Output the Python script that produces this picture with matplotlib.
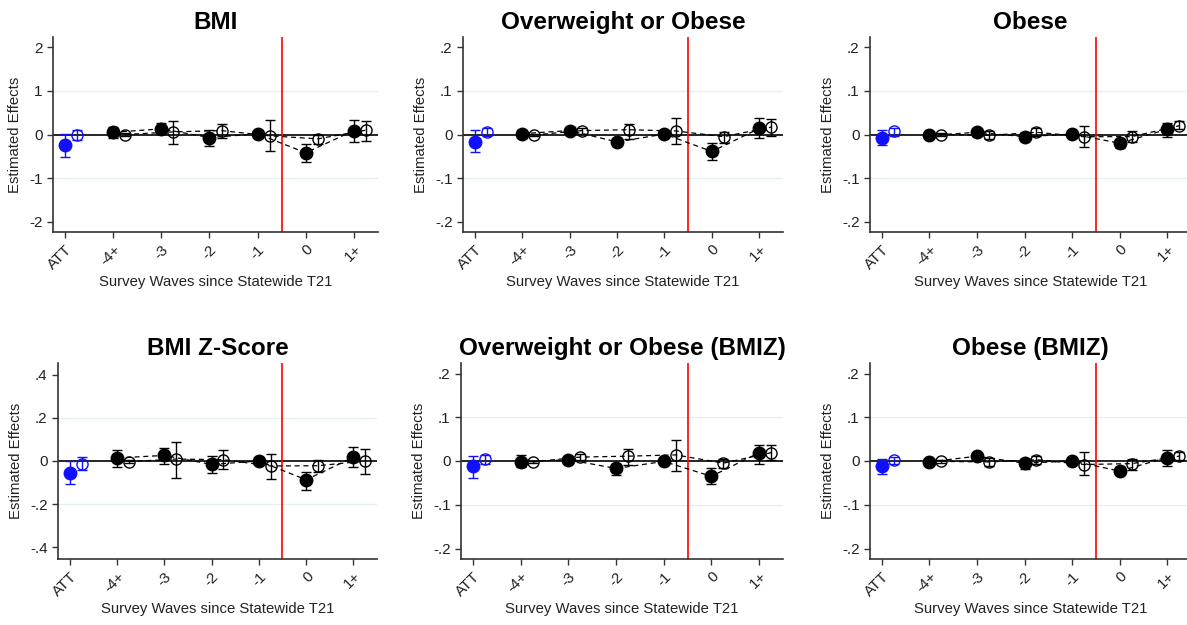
"""Event-study panels: estimated effects by survey wave since statewide T21."""
import matplotlib
matplotlib.use("Agg")
import matplotlib.pyplot as plt
import numpy as np

plt.rcParams.update({
    "font.family": ["Liberation Sans", "DejaVu Sans"],
    "font.size": 10.5,
    "axes.spines.top": False,
    "axes.spines.right": False,
})

TICK_LABELS = ["ATT", "-4+", "-3", "-2", "-1", "0", "1+"]
TITLES = ["BMI", "Overweight or Obese", "Obese",
          "BMI Z-Score", "Overweight or Obese (BMIZ)", "Obese (BMIZ)"]

# order of every list: ATT, -4+, -3, -2, -1, 0, 1+
BMI_EST = [-0.24, 0.05, 0.13, -0.07, 0.015, -0.42, 0.09]
BMI_LO = [-0.52, -0.09, 0.02, -0.26, -0.04, -0.64, -0.18]
BMI_HI = [0.015, 0.18, 0.27, 0.11, 0.07, -0.21, 0.34]
BMI_ALT = [-0.01, 0.0, 0.06, 0.09, -0.03, -0.10, 0.10]
BMI_ALT_LO = [-0.12, -0.03, -0.21, -0.09, -0.38, -0.22, -0.14]
BMI_ALT_HI = [0.11, 0.03, 0.32, 0.24, 0.34, 0.0, 0.32]

OWOB_EST = [-0.017, 0.002, 0.009, -0.017, 0.001, -0.039, 0.014]
OWOB_LO = [-0.041, -0.008, 0.001, -0.027, -0.005, -0.058, -0.009]
OWOB_HI = [0.011, 0.011, 0.018, -0.008, 0.007, -0.019, 0.039]
OWOB_ALT = [0.005, -0.001, 0.009, 0.011, 0.008, -0.005, 0.017]
OWOB_ALT_LO = [-0.004, -0.004, 0.002, -0.011, -0.021, -0.019, -0.003]
OWOB_ALT_HI = [0.014, 0.002, 0.015, 0.025, 0.039, 0.006, 0.036]

OB_EST = [-0.008, -0.002, 0.005, -0.005, 0.001, -0.020, 0.012]
OB_LO = [-0.023, -0.006, 0.0, -0.014, -0.003, -0.030, -0.005]
OB_HI = [0.011, 0.002, 0.010, 0.004, 0.005, -0.011, 0.026]
OB_ALT = [0.007, 0.0, -0.002, 0.005, -0.005, -0.005, 0.020]
OB_ALT_LO = [-0.003, -0.003, -0.011, -0.004, -0.029, -0.017, 0.012]
OB_ALT_HI = [0.014, 0.003, 0.008, 0.014, 0.020, 0.007, 0.030]

BMIZ_EST = [-0.056, 0.014, 0.026, -0.016, 0.0, -0.087, 0.017]
BMIZ_LO = [-0.109, -0.028, -0.014, -0.056, -0.011, -0.136, -0.026]
BMIZ_HI = [-0.002, 0.053, 0.059, 0.022, 0.011, -0.05, 0.064]
BMIZ_ALT = [-0.014, -0.003, 0.009, 0.006, -0.023, -0.022, 0.0]
BMIZ_ALT_LO = [-0.04, -0.008, -0.078, -0.039, -0.082, -0.051, -0.06]
BMIZ_ALT_HI = [0.019, 0.003, 0.09, 0.053, 0.034, 0.005, 0.057]

OWOBZ_EST = [-0.012, -0.002, 0.003, -0.017, -0.001, -0.035, 0.019]
OWOBZ_LO = [-0.038, -0.014, -0.003, -0.032, -0.006, -0.053, -0.006]
OWOBZ_HI = [0.011, 0.013, 0.008, -0.006, 0.004, -0.016, 0.036]
OWOBZ_ALT = [0.004, -0.002, 0.009, 0.011, 0.014, -0.005, 0.019]
OWOBZ_ALT_LO = [-0.006, -0.005, 0.002, -0.009, -0.022, -0.016, 0.002]
OWOBZ_ALT_HI = [0.014, 0.001, 0.016, 0.028, 0.047, 0.004, 0.036]

OBZ_EST = [-0.011, -0.002, 0.011, -0.005, 0.0, -0.023, 0.008]
OBZ_LO = [-0.029, -0.006, 0.005, -0.018, -0.004, -0.033, -0.012]
OBZ_HI = [0.005, 0.002, 0.017, 0.005, 0.004, -0.014, 0.026]
OBZ_ALT = [0.002, -0.001, -0.002, 0.003, -0.008, -0.006, 0.011]
OBZ_ALT_LO = [-0.006, -0.004, -0.012, -0.006, -0.033, -0.020, 0.002]
OBZ_ALT_HI = [0.010, 0.002, 0.008, 0.012, 0.021, 0.005, 0.020]

Y_TICKS = [
    ([-2, -1, 0, 1, 2], ["-2", "-1", "0", "1", "2"]),
    ([-0.2, -0.1, 0, 0.1, 0.2], ["-.2", "-.1", "0", ".1", ".2"]),
    ([-0.2, -0.1, 0, 0.1, 0.2], ["-.2", "-.1", "0", ".1", ".2"]),
    ([-0.4, -0.2, 0, 0.2, 0.4], ["-.4", "-.2", "0", ".2", ".4"]),
    ([-0.2, -0.1, 0, 0.1, 0.2], ["-.2", "-.1", "0", ".1", ".2"]),
    ([-0.2, -0.1, 0, 0.1, 0.2], ["-.2", "-.1", "0", ".1", ".2"]),
]
Y_LIMITS = [2.24, 0.224, 0.224, 0.455, 0.224, 0.224]

PANELS = [
    (BMI_EST, BMI_LO, BMI_HI, BMI_ALT, BMI_ALT_LO, BMI_ALT_HI),
    (OWOB_EST, OWOB_LO, OWOB_HI, OWOB_ALT, OWOB_ALT_LO, OWOB_ALT_HI),
    (OB_EST, OB_LO, OB_HI, OB_ALT, OB_ALT_LO, OB_ALT_HI),
    (BMIZ_EST, BMIZ_LO, BMIZ_HI, BMIZ_ALT, BMIZ_ALT_LO, BMIZ_ALT_HI),
    (OWOBZ_EST, OWOBZ_LO, OWOBZ_HI, OWOBZ_ALT, OWOBZ_ALT_LO, OWOBZ_ALT_HI),
    (OBZ_EST, OBZ_LO, OBZ_HI, OBZ_ALT, OBZ_ALT_LO, OBZ_ALT_HI),
]

W, H = 1187, 625
# axes boxes in pixels: left, top, right, bottom
BOXES = [
    (53, 37, 378, 232), (463, 37, 783, 232), (870, 37, 1191, 232),
    (58, 363, 377, 559), (461, 363, 783, 559), (870, 363, 1191, 559),
]

BLUE = "#1010ff"
AXIS_GREY = "#333333"

fig = plt.figure(figsize=(W / 100, H / 100), dpi=100)

for i, (title, data) in enumerate(zip(TITLES, PANELS)):
    est, lo, hi, alt, alt_lo, alt_hi = (np.array(a) for a in data)
    l, t, r, b = BOXES[i]
    ax = fig.add_axes([l / W, 1 - b / H, (r - l) / W, (b - t) / H])
    x = np.arange(len(est))
    x_alt = x + 0.25

    lim = Y_LIMITS[i]
    ticks, labels = Y_TICKS[i]
    for g in (ticks[1], ticks[3]):
        ax.axhline(g, color="#e6eff1", lw=1.0, zorder=0)
    ax.axhline(0, color="black", lw=1.2, zorder=1)
    ax.axvline(4.5, color="#ff0000", lw=1.2, zorder=1)

    # dashed connectors (waves only, not ATT)
    ax.plot(x[1:], est[1:], ls=(0, (4, 3)), color="black", lw=0.9, zorder=2)
    ax.plot(x_alt[1:], alt[1:], ls=(0, (4, 3)), color="black", lw=0.9, zorder=2)

    colors = [BLUE] + ["black"] * (len(est) - 1)
    for j in range(len(est)):
        c = colors[j]
        ax.errorbar(x[j], est[j], yerr=[[est[j] - lo[j]], [hi[j] - est[j]]],
                    fmt="o", ms=9, color=c, mfc=c, mec=c, ecolor=c,
                    elinewidth=1.0, capsize=3.5, capthick=1.0, zorder=3)
        ax.errorbar(x_alt[j], alt[j], yerr=[[alt[j] - alt_lo[j]], [alt_hi[j] - alt[j]]],
                    fmt="o", ms=8, color=c, mfc="none", mec=c, mew=1.0, ecolor=c,
                    elinewidth=1.0, capsize=3.5, capthick=1.0, zorder=3)

    ax.set_xlim(-0.25, 6.5)
    ax.set_ylim(-lim, lim)
    ax.set_yticks(ticks)
    ax.set_yticklabels(labels)
    ax.set_xticks(x)
    ax.set_xticklabels(TICK_LABELS, rotation=45, ha="right", rotation_mode="anchor")
    ax.tick_params(direction="out", length=4, width=1.0, color=AXIS_GREY,
                   labelsize=11, labelcolor="#222222")
    for s in ("left", "bottom"):
        ax.spines[s].set_color(AXIS_GREY)
        ax.spines[s].set_linewidth(1.2)

    ax.set_title(title, fontsize=17.5, fontweight="bold", pad=6)
    ax.set_ylabel("Estimated Effects", fontsize=10.7, color="#222222", labelpad=5)
    ax.set_xlabel("Survey Waves since Statewide T21", fontsize=10.7, color="#222222")
    ax.xaxis.set_label_coords(0.5, -0.22)

fig.savefig("out.png", dpi=100)
